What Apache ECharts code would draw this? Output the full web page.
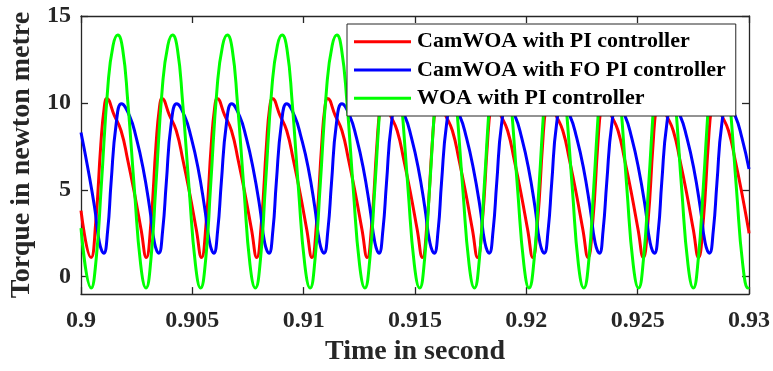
<!DOCTYPE html>
<html>
<head>
<meta charset="utf-8">
<script src="https://cdn.jsdelivr.net/npm/echarts@6/dist/echarts.min.js"></script>
<style>
html,body{margin:0;padding:0;background:#fff;}
#chart{width:773px;height:371px;}
</style>
</head>
<body>
<div id="chart"></div>
<script>
// ---- Data ----
const seriesNames = ['CamWOA with PI controller', 'CamWOA with FO PI controller', 'WOA with PI controller'];
const xTickValues = [0.9, 0.905, 0.91, 0.915, 0.92, 0.925, 0.93];
const yTickValues = [0, 5, 10, 15];

const redTime = [0.9,
  0.90045,0.90066,0.90089,0.90104,0.90116,0.90149,0.90180,0.90210,0.90240,0.90270,
  0.90293,0.90314,0.90337,0.90352,0.90364,0.90397,0.90428,0.90458,0.90488,0.90518,
  0.90541,0.90562,0.90585,0.90600,0.90612,0.90645,0.90676,0.90706,0.90736,0.90766,
  0.90789,0.90810,0.90833,0.90847,0.90860,0.90893,0.90924,0.90954,0.90984,0.91014,
  0.91037,0.91058,0.91081,0.91095,0.91108,0.91141,0.91172,0.91202,0.91232,0.91262,
  0.91285,0.91306,0.91329,0.91343,0.91356,0.91389,0.91420,0.91450,0.91480,0.91510,
  0.91533,0.91554,0.91577,0.91591,0.91604,0.91637,0.91668,0.91698,0.91728,0.91758,
  0.91781,0.91802,0.91825,0.91839,0.91852,0.91885,0.91916,0.91946,0.91976,0.92006,
  0.92029,0.92050,0.92073,0.92087,0.92100,0.92133,0.92164,0.92194,0.92224,0.92254,
  0.92277,0.92298,0.92321,0.92335,0.92348,0.92381,0.92412,0.92442,0.92472,0.92502,
  0.92525,0.92546,0.92569,0.92583,0.92596,0.92629,0.92660,0.92690,0.92720,0.92750,
  0.92773,0.92794,0.92817,0.92831,0.92844,0.92877,0.92908,0.92938,0.92968,0.92998,
  0.93];
const redTorque = [3.8,
  1.1,3.1,7.6,9.7,10.25,9.3,8.4,6.7,4.8,2.7,
  1.1,3.1,7.6,9.7,10.25,9.3,8.4,6.7,4.8,2.7,
  1.1,3.1,7.6,9.7,10.25,9.3,8.4,6.7,4.8,2.7,
  1.1,3.1,7.6,9.7,10.25,9.3,8.4,6.7,4.8,2.7,
  1.1,3.1,7.6,9.7,10.25,9.3,8.4,6.7,4.8,2.7,
  1.1,3.1,7.6,9.7,10.25,9.3,8.4,6.7,4.8,2.7,
  1.1,3.1,7.6,9.7,10.25,9.3,8.4,6.7,4.8,2.7,
  1.1,3.1,7.6,9.7,10.25,9.3,8.4,6.7,4.8,2.7,
  1.1,3.1,7.6,9.7,10.25,9.3,8.4,6.7,4.8,2.7,
  1.1,3.1,7.6,9.7,10.25,9.3,8.4,6.7,4.8,2.7,
  1.1,3.1,7.6,9.7,10.25,9.3,8.4,6.7,4.8,2.7,
  1.1,3.1,7.6,9.7,10.25,9.3,8.4,6.7,4.8,2.7,
  2.5];

const blueTime = [0.9, 0.90030, 0.90061, 0.90083,
  0.90102,0.90120,0.90135,0.90158,0.90182,0.90218,0.90248,0.90278,0.90308,0.90330,
  0.90349,0.90367,0.90383,0.90405,0.90430,0.90465,0.90495,0.90525,0.90555,0.90578,
  0.90596,0.90614,0.90630,0.90653,0.90677,0.90712,0.90742,0.90772,0.90803,0.90825,
  0.90844,0.90862,0.90877,0.90900,0.90924,0.90959,0.90989,0.91020,0.91050,0.91072,
  0.91091,0.91109,0.91125,0.91147,0.91172,0.91207,0.91237,0.91267,0.91297,0.91320,
  0.91338,0.91356,0.91372,0.91394,0.91419,0.91454,0.91484,0.91514,0.91544,0.91567,
  0.91586,0.91604,0.91619,0.91642,0.91666,0.91701,0.91731,0.91761,0.91792,0.91814,
  0.91833,0.91851,0.91867,0.91889,0.91914,0.91949,0.91979,0.92009,0.92039,0.92061,
  0.92080,0.92098,0.92114,0.92136,0.92161,0.92196,0.92226,0.92256,0.92286,0.92309,
  0.92328,0.92345,0.92361,0.92384,0.92408,0.92443,0.92473,0.92503,0.92534,0.92556,
  0.92575,0.92593,0.92608,0.92631,0.92656,0.92691,0.92721,0.92751,0.92781,0.92803,
  0.92822,0.92840,0.92856,0.92878,0.92903,0.92938,0.92968,
  0.93];
const blueTorque = [8.3, 6.3, 4.0, 1.95,
  1.35,2.7,5.4,8.8,9.95,9.25,8.0,6.3,4.0,1.95,
  1.35,2.7,5.4,8.8,9.95,9.25,8.0,6.3,4.0,1.95,
  1.35,2.7,5.4,8.8,9.95,9.25,8.0,6.3,4.0,1.95,
  1.35,2.7,5.4,8.8,9.95,9.25,8.0,6.3,4.0,1.95,
  1.35,2.7,5.4,8.8,9.95,9.25,8.0,6.3,4.0,1.95,
  1.35,2.7,5.4,8.8,9.95,9.25,8.0,6.3,4.0,1.95,
  1.35,2.7,5.4,8.8,9.95,9.25,8.0,6.3,4.0,1.95,
  1.35,2.7,5.4,8.8,9.95,9.25,8.0,6.3,4.0,1.95,
  1.35,2.7,5.4,8.8,9.95,9.25,8.0,6.3,4.0,1.95,
  1.35,2.7,5.4,8.8,9.95,9.25,8.0,6.3,4.0,1.95,
  1.35,2.7,5.4,8.8,9.95,9.25,8.0,6.3,4.0,1.95,
  1.35,2.7,5.4,8.8,9.95,9.25,8.0,
  6.2];

const greenTime = [0.9,
  0.90046,0.90068,0.90091,0.90121,0.90144,0.90165,0.90187,0.90210,0.90240,0.90268,
  0.90292,0.90314,0.90336,0.90366,0.90390,0.90411,0.90433,0.90456,0.90486,0.90514,
  0.90537,0.90560,0.90582,0.90612,0.90636,0.90657,0.90679,0.90702,0.90732,0.90759,
  0.90783,0.90806,0.90828,0.90858,0.90882,0.90903,0.90925,0.90948,0.90977,0.91005,
  0.91029,0.91051,0.91074,0.91104,0.91128,0.91149,0.91170,0.91194,0.91223,0.91251,
  0.91275,0.91297,0.91320,0.91350,0.91374,0.91395,0.91416,0.91439,0.91469,0.91497,
  0.91521,0.91543,0.91566,0.91596,0.91619,0.91640,0.91662,0.91685,0.91715,0.91743,
  0.91767,0.91789,0.91811,0.91841,0.91865,0.91886,0.91908,0.91931,0.91961,0.91989,
  0.92012,0.92035,0.92057,0.92087,0.92111,0.92132,0.92154,0.92177,0.92207,0.92234,
  0.92258,0.92281,0.92303,0.92333,0.92357,0.92378,0.92400,0.92423,0.92452,0.92480,
  0.92504,0.92526,0.92549,0.92579,0.92603,0.92624,0.92645,0.92669,0.92698,0.92726,
  0.92750,0.92772,0.92795,0.92825,0.92849,0.92870,0.92891,0.92914,0.92944,0.92972,
  0.92996, 0.93];
const greenTorque = [2.8,
  -0.65,1.0,5.2,11.0,13.3,13.9,13.1,10.1,5.0,0.7,
  -0.65,1.0,5.2,11.0,13.3,13.9,13.1,10.1,5.0,0.7,
  -0.65,1.0,5.2,11.0,13.3,13.9,13.1,10.1,5.0,0.7,
  -0.65,1.0,5.2,11.0,13.3,13.9,13.1,10.1,5.0,0.7,
  -0.65,1.0,5.2,11.0,13.3,13.9,13.1,10.1,5.0,0.7,
  -0.65,1.0,5.2,11.0,13.3,13.9,13.1,10.1,5.0,0.7,
  -0.65,1.0,5.2,11.0,13.3,13.9,13.1,10.1,5.0,0.7,
  -0.65,1.0,5.2,11.0,13.3,13.9,13.1,10.1,5.0,0.7,
  -0.65,1.0,5.2,11.0,13.3,13.9,13.1,10.1,5.0,0.7,
  -0.65,1.0,5.2,11.0,13.3,13.9,13.1,10.1,5.0,0.7,
  -0.65,1.0,5.2,11.0,13.3,13.9,13.1,10.1,5.0,0.7,
  -0.65,1.0,5.2,11.0,13.3,13.9,13.1,10.1,5.0,0.7,
  -0.65, -0.6];

// ---- Chart ----
const FONT = 'Liberation Serif, Times New Roman, serif';
const AX = '#262626';
const pair = (xs, ys) => xs.map((x, i) => [x, ys[i]]);

const chart = echarts.init(document.getElementById('chart'), null, {renderer: 'canvas'});

const axisLineStyle = {color: AX, width: 1.3};
const commonX = {
  type: 'value', min: 0.9, max: 0.93, interval: 0.005,
  axisLine: {show: true, onZero: false, lineStyle: axisLineStyle},
  axisTick: {show: true, inside: true, length: 7, lineStyle: axisLineStyle},
  splitLine: {show: false}
};
const commonY = {
  type: 'value', min: -1, max: 15,
  axisLine: {show: true, onZero: false, lineStyle: axisLineStyle},
  axisTick: {show: true, inside: true, length: 7, lineStyle: axisLineStyle, customValues: yTickValues},
  splitLine: {show: false}
};

const lineSeries = (i, xs, ys, color) => ({
  name: seriesNames[i], type: 'line', data: pair(xs, ys), xAxisIndex: 0, yAxisIndex: 0,
  showSymbol: false, smooth: 0.5, lineStyle: {color: color, width: 3}, itemStyle: {color: color}
});

chart.setOption({
  animation: false,
  backgroundColor: '#fff',
  grid: {left: 81, top: 16, right: 23.5, bottom: 73, containLabel: false},
  legend: {
    orient: 'vertical', left: 347, top: 24,
    backgroundColor: '#fff', borderColor: AX, borderWidth: 1,
    padding: [5.7, 10, 5.7, 7],
    icon: 'rect', itemWidth: 57, itemHeight: 3, itemGap: 4.3,
    textStyle: {fontFamily: FONT, fontWeight: 'bold', fontSize: 22, color: '#000', lineHeight: 24, padding: [0, 0, 0, 1]},
    data: seriesNames
  },
  xAxis: [
    Object.assign({}, commonX, {
      position: 'bottom',
      axisLabel: {show: true, margin: 15, fontFamily: FONT, fontWeight: 'bold', fontSize: 24, color: AX,
        customValues: xTickValues, formatter: v => String(+v.toFixed(3))},
      name: 'Time in second', nameLocation: 'middle', nameGap: 43,
      nameTextStyle: {fontFamily: FONT, fontWeight: 'bold', fontSize: 28, color: AX}
    }),
    Object.assign({}, commonX, {position: 'top', axisLabel: {show: false}})
  ],
  yAxis: [
    Object.assign({}, commonY, {
      position: 'left',
      axisLabel: {show: true, margin: 10, fontFamily: FONT, fontWeight: 'bold', fontSize: 24, color: AX,
        customValues: yTickValues},
      name: 'Torque in newton metre', nameLocation: 'middle', nameGap: 37,
      nameTextStyle: {fontFamily: FONT, fontWeight: 'bold', fontSize: 28, color: AX}
    }),
    Object.assign({}, commonY, {position: 'right', axisLabel: {show: false}})
  ],
  series: [
    lineSeries(0, redTime, redTorque, '#ff0000'),
    lineSeries(1, blueTime, blueTorque, '#0000ff'),
    lineSeries(2, greenTime, greenTorque, '#00ff00')
  ]
});
</script>
</body>
</html>
